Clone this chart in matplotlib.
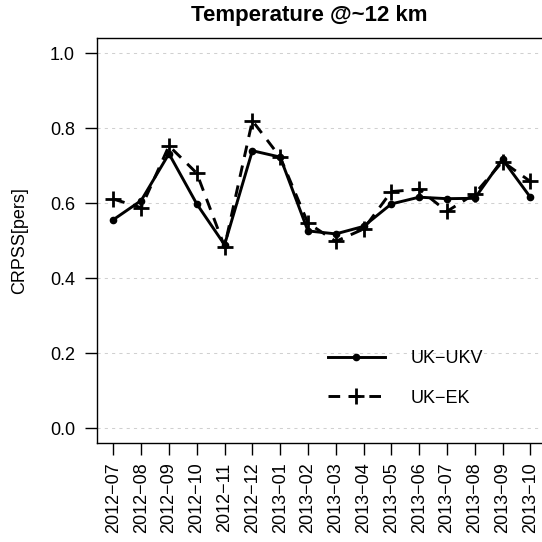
"""
CRPSS of temperature at ~12 km, UK-UKV vs UK-EK
"""

import matplotlib
matplotlib.use('Agg')
import matplotlib.pyplot as plt
import numpy as np

months = ['2012-07', '2012-08', '2012-09', '2012-10', '2012-11', '2012-12',
          '2013-01', '2013-02', '2013-03', '2013-04', '2013-05', '2013-06',
          '2013-07', '2013-08', '2013-09', '2013-10']
ukv = [0.556, 0.607, 0.732, 0.598, 0.489, 0.740, 0.723, 0.526,
       0.518, 0.538, 0.598, 0.616, 0.612, 0.613, 0.717, 0.616]
ek = [0.611, 0.588, 0.753, 0.680, 0.484, 0.820, 0.723, 0.547,
      0.498, 0.531, 0.631, 0.637, 0.578, 0.625, 0.711, 0.658]
yticks = [0.0, 0.2, 0.4, 0.6, 0.8, 1.0]

plt.rcParams['font.family'] = ['Liberation Sans', 'DejaVu Sans']
FS = 13

W, H = 542, 542
fig = plt.figure(figsize=(W / 100, H / 100), dpi=100)
ax = fig.add_axes([96.7 / W, 1 - 443 / H, (547 - 96.7) / W, (443 - 38.3) / H])

x = np.arange(len(months))

# grid first so lines sit on top
for yv in yticks:
    ax.axhline(yv, color='#d0d0d0', lw=0.75, linestyle=(0, (3, 4)), zorder=1)

ax.plot(x, ukv, color='black', lw=2.1, marker='o', markersize=4.5,
        label='UK\u2212UKV', zorder=3)
ax.plot(x, ek, color='black', lw=2.1, linestyle=(0, (4, 3)), marker='+',
        markersize=11, markeredgewidth=2, label='UK\u2212EK', zorder=3)

ax.set_xlim(-0.6, 15.6)
ax.set_ylim(-0.04, 1.04)
ax.set_xticks(x)
ax.set_xticklabels([m.replace('-', '\u2212') for m in months], rotation=90,
                   fontsize=FS)
ax.set_yticks(yticks)
ax.set_yticklabels([f'{v:.1f}' for v in yticks], fontsize=FS)
ax.tick_params(axis='both', direction='out', length=8.6, width=1, color='black')
ax.tick_params(axis='x', pad=5.5)
ax.tick_params(axis='y', pad=7)

for side in ['left', 'bottom', 'top']:
    ax.spines[side].set_linewidth(1.0)
ax.spines['right'].set_visible(False)

leg = ax.legend(loc='center left', bbox_to_anchor=(328 / W, 1 - 378.5 / H),
                bbox_transform=fig.transFigure, frameon=False, fontsize=FS,
                handlelength=3.15, handletextpad=1.4, labelspacing=1.25,
                borderpad=0, borderaxespad=0, numpoints=1)

fig.text(309 / W, 1 - 16 / H, 'Temperature @~12 km', ha='center', va='center',
         fontsize=16, fontweight='bold')
fig.text(20 / W, 1 - 241 / H, 'CRPSS[pers]', ha='center', va='center',
         rotation=90, fontsize=FS)

fig.savefig('out.png', dpi=100)
